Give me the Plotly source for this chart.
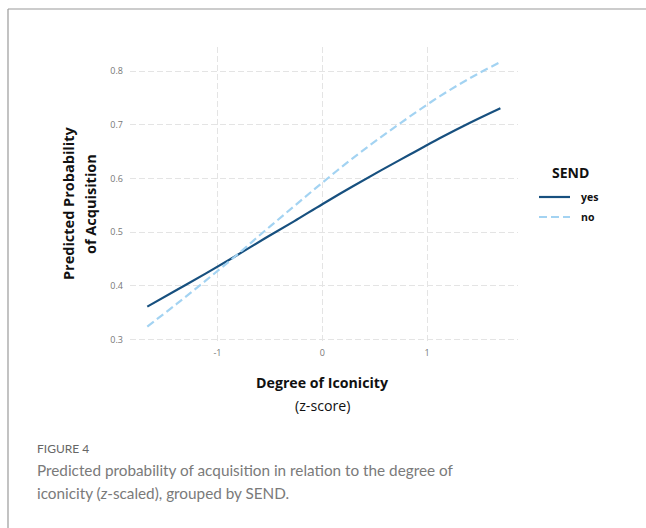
import plotly.graph_objects as go

# ---- data ----
iconicity_z = [-1.67, -1.39, -1.11, -0.83, -0.55, -0.27, 0.0, 0.28, 0.56, 0.84, 1.12, 1.41, 1.70]
prob_send_yes = [0.361, 0.392, 0.423, 0.455, 0.488, 0.520, 0.552, 0.584, 0.615, 0.645, 0.675, 0.704, 0.731]
prob_send_no = [0.324, 0.366, 0.410, 0.455, 0.502, 0.548, 0.592, 0.636, 0.677, 0.716, 0.753, 0.787, 0.817]
x_ticks = [-1, 0, 1]
x_tick_labels = ["-1", "0", "1"]
y_ticks = [0.3, 0.4, 0.5, 0.6, 0.7, 0.8]

W, H = 646, 528
L, R, T, B = 130, 128, 47, 187
PW, PH = W - L - R, H - T - B


def px(x):
    return (x - L) / PW


def py(y):
    return (H - B - y) / PH


YES_C, NO_C = "#17507f", "#a3d3f2"
NO_DASH = "8px,4px"

fig = go.Figure()
fig.add_trace(go.Scatter(x=iconicity_z, y=prob_send_yes, mode="lines", name="yes",
                         line=dict(color=YES_C, width=2.2, shape="spline")))
fig.add_trace(go.Scatter(x=iconicity_z, y=prob_send_no, mode="lines", name="no",
                         line=dict(color=NO_C, width=2.2, dash=NO_DASH, shape="spline")))

grid = dict(showgrid=True, gridcolor="#e4e4e4", griddash="6px,3px", gridwidth=1,
            zeroline=False, showline=False, ticks="",
            tickfont=dict(family="Open Sans", size=9, color="#777777"))

fig.update_xaxes(range=[-1.835, 1.868], tickvals=x_ticks, ticktext=x_tick_labels,
                 ticklabelstandoff=5, **grid)
fig.update_yaxes(range=[0.297, 0.845], tickvals=y_ticks, tickformat=".1f",
                 ticklabelstandoff=6, **grid)

TF = "Open Sans"
ann = []
ann.append(dict(text="<b>Predicted Probability</b>", x=px(68), y=py(204),
                textangle=-90, font=dict(family=TF, size=14.5, color="#111111")))
ann.append(dict(text="<b>of Acquisition</b>", x=px(90), y=py(204),
                textangle=-90, font=dict(family=TF, size=14.5, color="#111111")))
ann.append(dict(text="<b>Degree of Iconicity</b>", x=px(322), y=py(382),
                font=dict(family=TF, size=14.2, color="#111111")))
ann.append(dict(text="(z-score)", x=px(322), y=py(405),
                font=dict(family=TF, size=14.2, color="#111111")))
ann.append(dict(text="<b>SEND</b>", x=px(570), y=py(172),
                font=dict(family=TF, size=14, color="#111111")))
ann.append(dict(text="<b>yes</b>", x=px(579), y=py(197), xanchor="left",
                font=dict(family=TF, size=10.5, color="#111111")))
ann.append(dict(text="<b>no</b>", x=px(579), y=py(217), xanchor="left",
                font=dict(family=TF, size=10.5, color="#111111")))
ann.append(dict(text="FIGURE 4", x=px(35), y=py(448), xanchor="left",
                font=dict(family="Lato", size=12, color="#666666")))
ann.append(dict(text="Predicted probability of acquisition in relation to the degree of",
                x=px(35), y=py(470), xanchor="left",
                font=dict(family="Lato", size=15.3, color="#7a7a7a")))
ann.append(dict(text="iconicity (<i>z</i>-scaled), grouped by SEND.",
                x=px(35), y=py(493), xanchor="left",
                font=dict(family="Lato", size=15.3, color="#7a7a7a")))
for a in ann:
    a.update(xref="paper", yref="paper", showarrow=False)
    a.setdefault("xanchor", "center")
    a.setdefault("yanchor", "middle")

shapes = [
    dict(type="line", xref="paper", yref="paper", x0=px(8), x1=px(660), y0=py(9), y1=py(9),
         line=dict(color="#9a9a9a", width=1.2)),
    dict(type="line", xref="paper", yref="paper", x0=px(8), x1=px(8), y0=py(9), y1=py(540),
         line=dict(color="#9a9a9a", width=1.2)),
    dict(type="line", xref="paper", yref="paper", x0=px(539), x1=px(570), y0=py(197), y1=py(197),
         line=dict(color=YES_C, width=2.2)),
    dict(type="line", xref="paper", yref="paper", x0=px(539), x1=px(570), y0=py(217), y1=py(217),
         line=dict(color=NO_C, width=2.2, dash=NO_DASH)),
]

fig.update_layout(width=W, height=H, margin=dict(l=L, r=R, t=T, b=B),
                  paper_bgcolor="white", plot_bgcolor="white", showlegend=False,
                  annotations=ann, shapes=shapes)

fig.write_html("out.html", config=dict(displayModeBar=False),
               post_script="document.body.style.margin='0';document.body.style.overflow='hidden';")
